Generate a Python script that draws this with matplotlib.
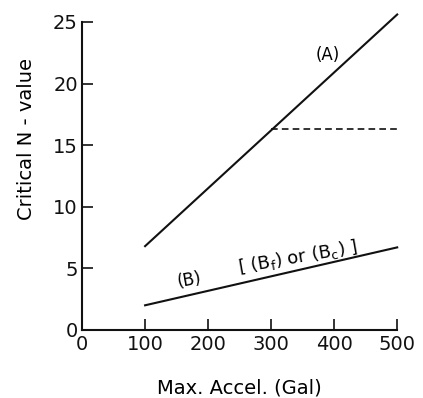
import matplotlib
matplotlib.use("Agg")
import matplotlib.pyplot as plt

accel = [100, 500]
n_a = [6.8, 25.6]          # line (A)
n_b = [2.0, 6.7]           # line (B)
dash_x = [300, 500]
dash_y = [16.3, 16.3]      # cut-off of (A)
xticks = [0, 100, 200, 300, 400, 500]
yticks = [0, 5, 10, 15, 20, 25]

plt.rcParams['font.family'] = ['DejaVu Sans']

fig = plt.figure(figsize=(4.23, 3.98), dpi=100)
ax = fig.add_axes([0.194, 0.171, 0.745, 0.774])

ax.plot(accel, n_a, color='#111111', lw=1.5, clip_on=False)
ax.plot(dash_x, dash_y, color='#111111', lw=1.2, ls=(0, (4, 2.5)), clip_on=False)
ax.plot(accel, n_b, color='#111111', lw=1.5, clip_on=False)

ax.text(390, 22.3, '(A)', fontsize=12, ha='center', va='center')
ax.text(171, 4.05, '(B)', fontsize=12, ha='center', va='center', rotation=10)
ax.text(343, 5.9, r'[ (B$_\mathrm{f}$) or (B$_\mathrm{c}$) ]', fontsize=13,
        ha='center', va='center', rotation=10)

ax.set_xlim(0, 500)
ax.set_ylim(0, 25)
ax.set_xticks(xticks)
ax.set_yticks(yticks)
ax.set_xticklabels([str(v) for v in xticks], fontsize=14)
ax.set_yticklabels([str(v) for v in yticks], fontsize=14)
ax.tick_params(direction='in', length=8, width=1.2, colors='#111111')
ax.tick_params(axis='x', pad=4)
ax.tick_params(axis='y', pad=3)

for s in ['top', 'right']:
    ax.spines[s].set_visible(False)
for s in ['left', 'bottom']:
    ax.spines[s].set_linewidth(1.5)
    ax.spines[s].set_color('#111111')

ax.set_xlabel('Max. Accel. (Gal)', fontsize=14)
ax.set_ylabel('Critical N - value', fontsize=14)
ax.xaxis.set_label_coords(0.5, -0.158)
ax.yaxis.set_label_coords(-0.146, 0.62)

fig.savefig('out.png', dpi=100)
